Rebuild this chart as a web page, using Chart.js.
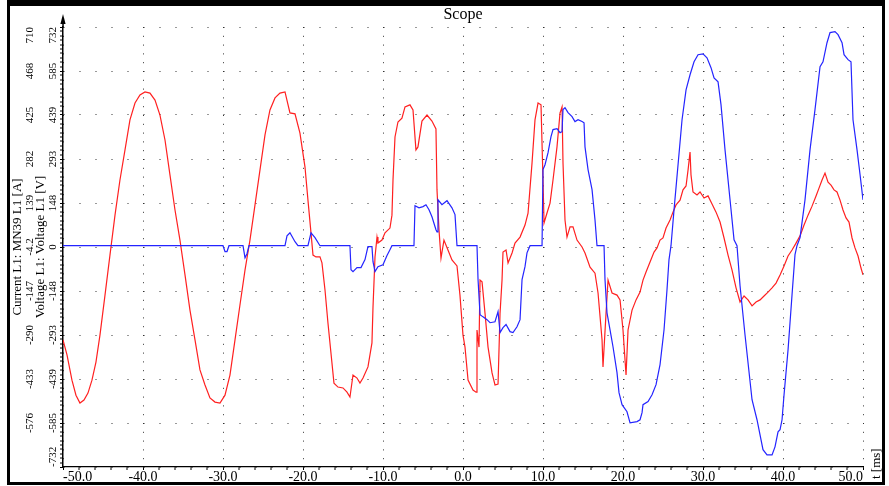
<!DOCTYPE html>
<html>
<head>
<meta charset="utf-8">
<title>Scope</title>
<script src="https://cdn.jsdelivr.net/npm/chart.js@4.4.1/dist/chart.umd.min.js"></script>
<style>
  html, body { margin: 0; padding: 0; background: #fff; }
  #wrap { position: relative; width: 889px; height: 486px; }
</style>
</head>
<body>
<div id="wrap"><canvas id="scope" width="889" height="486"></canvas></div>
<script>
// ---- Sampled traces (time in ms) ----
const voltageTimes = [
  -50, -49.5, -48.88, -48.38, -47.88, -47.38, -46.88, -46.38, -45.88, -45.38,
  -44.75, -44.13, -43.5, -42.88, -42.25, -41.63, -41, -40.38, -39.75, -39.13,
  -38.5, -37.88, -37.25, -36.63, -36, -35.38, -34.75, -34.13, -33.5, -32.88,
  -32.25, -31.63, -31, -30.38, -29.75, -29.13, -28.5, -27.88, -27.25, -26.63,
  -26, -25.38, -24.75, -24.13, -23.5, -22.88, -22.25, -21.63, -21, -20.38,
  -19.75, -19.38, -19, -18.75, -18.38, -17.88, -17.63, -17.25, -16.88, -16.38,
  -16.13, -15.63, -15, -14.5, -14.13, -13.75, -13.25, -12.88, -12.5, -11.88,
  -11.38, -11.25, -11, -10.75, -10.63, -10.13, -9.75, -9.13, -8.88, -8.75,
  -8.5, -8.13, -7.63, -7.25, -6.63, -6.25, -5.88, -5.63, -5.13, -4.5,
  -3.88, -3.38, -3.25, -3, -2.75, -2.38, -1.88, -1.38, -0.75, -0.38,
  0, 0.25, 0.63, 1.25, 1.63, 1.75, 2, 2.13, 2.38, 2.75,
  3.13, 3.63, 4, 4.38, 4.63, 4.88, 5, 5.38, 5.63, 6.13,
  6.5, 7.13, 7.75, 8.13, 8.63, 9, 9.38, 9.75, 10, 10.13,
  10.5, 10.88, 11.25, 11.75, 12.13, 12.38, 12.5, 12.75, 13, 13.38,
  13.75, 14.25, 14.88, 15.25, 15.88, 16.5, 16.88, 17.38, 17.5, 17.88,
  18.13, 18.63, 19.25, 19.63, 20, 20.38,
  20.63, 21.13, 21.63, 22.13, 22.5, 22.88, 23.38, 23.88, 24.25, 24.63,
  25, 25.38, 25.88, 26.25, 26.63, 27.13, 27.5, 27.88, 28.13, 28.38,
  28.5, 28.75, 29.25, 29.63, 30.13, 30.63, 31.13, 31.63, 32.13, 32.63,
  33.13, 33.63, 34.13, 34.63, 35.13, 35.63, 36.13, 36.63, 37.13, 37.63,
  38.13, 38.63, 39.13, 39.63, 40.13, 40.63, 41.13, 41.63, 42.13, 42.63,
  43.13, 43.63, 44.13, 44.5, 44.88, 45.25, 45.63, 46, 46.38, 46.75,
  47.13, 47.5, 47.88, 48.25, 48.63, 49, 49.38, 49.75, 50
];
const voltageValues = [
  -309, -359, -443, -493, -519, -509, -486, -443, -383, -293,
  -160, -27, 106, 223, 323, 423, 479, 506, 516, 512,
  489, 439, 356, 240, 123, 23, -93, -210, -309, -409,
  -459, -502, -516, -519, -493, -426, -309, -193, -77, 23,
  140, 256, 373, 456, 496, 512, 516, 446, 443, 379,
  266, 156, 47, -27, -33, -33, -53, -143, -253, -386,
  -453, -466, -469, -483, -499, -426, -436, -453, -436, -399,
  -319, -200, -33, 33, 13, 23, 47, 63, 106, 223,
  366, 416, 429, 466, 473, 456, 323, 333, 419, 439,
  419, 393, 190, 57, -37, 23, -10, -43, -63, -160,
  -293, -333, -443, -476, -483, -276, -333, -110, -116, -220,
  -333, -419, -459, -456, -220, -110, -17, -10, -53, -20,
  13, 33, 73, 113, 280, 423, 479, 473, 223, 80,
  113, 146, 223, 333, 446, 466, 280, 90, 33, 67,
  67, 23, 0, -20, -67, -87, -153, -309, -399, -220,
  -110, -153, -160, -176, -276, -426,
  -276, -210, -176, -150, -110, -83, -50, -17, -3, 23,
  30, 63, 90, 116, 140, 156, 190, 203, 256, 316,
  240, 183, 173, 183, 163, 170, 143, 116, 83, 30,
  -27, -77, -136, -183, -163, -176, -196, -183, -176, -163,
  -150, -136, -120, -93, -63, -30, -10, 13, 37, 73,
  106, 136, 170, 196, 223, 246, 216, 206, 190, 183,
  156, 123, 97, 83, 30, -3, -30, -70, -93
];

const currentTimes = [
  -50, -30, -29.75, -29.5, -29.25, -27.5, -27.25, -27, -26.75, -22.25,
  -22, -21.63, -21, -20.63, -19.38, -19, -18.5, -17.88, -14.13, -14,
  -13.75, -13.25, -12.75, -12.25, -11.88, -11.38, -11.25, -11, -10.63, -10,
  -9.5, -9.13, -8.88, -6.13, -6, -5.5, -5, -4.63, -4.25, -3.88,
  -3.38, -3.25, -3.13, -2.63, -2, -1.38, -1, -0.75, 1.75, 1.88,
  2.13, 2.5, 3, 3.38, 4, 4.38, 4.63, 5, 5.38, 5.88,
  6.25, 6.75, 7.13, 7.38, 7.75, 8, 8.38, 9.88, 10, 10.25,
  10.63, 11, 11.25, 11.75, 12.13, 12.38, 12.5, 12.75, 13.13, 13.63,
  14, 14.38, 14.88, 15.13, 15.25, 15.63, 16.13, 16.5, 16.75, 17.63,
  17.75, 18, 18.38, 18.75, 19.25, 19.5, 19.88, 20.5, 20.88, 21.75,
  22.13, 22.38, 22.5, 23.13, 23.63, 24.13, 24.63, 25.13, 25.5, 25.75,
  26, 26.38, 26.88, 27.38, 27.88, 28.38, 28.88, 29.38, 30, 30.5,
  31, 31.38, 31.88, 32.25, 32.75, 33.38, 33.88, 34.25, 34.63, 35.25,
  36.13, 36.75, 37.5, 38, 38.63, 39, 39.38, 39.63, 39.88, 40.13,
  40.63, 41.13, 41.5, 41.75, 42.13, 42.75, 43.38, 44, 44.63, 45,
  45.5, 45.88, 46.5, 46.88, 47.38, 47.63, 48.13, 48.5, 48.75, 49.25,
  49.63, 50
];
const currentValues = [
  0, 0, -19, -19, 0, 0, -39, -26, 0, 0,
  32, 42, 13, 0, 0, 42, 26, 0, 0, -78,
  -84, -71, -71, -45, -3, -3, -52, -84, -68, -62,
  -32, -13, 0, 0, 130, 123, 127, 133, 117, 94,
  52, 45, 149, 133, 146, 123, 101, 0, 0, -110,
  -224, -231, -240, -250, -247, -214, -282, -266, -256, -279,
  -282, -263, -240, -110, -68, -23, 0, 0, 247, 263,
  302, 354, 377, 380, 367, 370, 442, 448, 432, 419,
  403, 409, 403, 399, 321, 247, 182, 84, 0, 0,
  -110, -218, -273, -328, -412, -477, -516, -539, -575, -571,
  -565, -542, -516, -506, -484, -451, -386, -273, -143, -45,
  0, 117, 263, 409, 506, 555, 597, 620, 623, 610,
  578, 545, 532, 458, 312, 149, 19, 0, -130, -289,
  -500, -565, -662, -679, -679, -653, -604, -597, -565, -484,
  -338, -159, -29, 0, 26, 149, 312, 442, 581, 597,
  659, 692, 695, 685, 659, 620, 604, 597, 409, 312,
  231, 149
];

// ---- Axis ticks ----
const xTickValues = [-50, -40, -30, -20, -10, 0, 10, 20, 30, 40, 50];
const xTickLabels = ['-50.0', '-40.0', '-30.0', '-20.0', '-10.0', '0.0', '10.0', '20.0', '30.0', '40.0', '50.0'];

// voltage axis, bottom to top
const voltTickValues = [-732, -585.6, -439.2, -292.8, -146.4, 0, 146.4, 292.8, 439.2, 585.6, 732];
const voltTickLabels = ['-732', '-585', '-439', '-293', '-148', '0', '148', '293', '439', '585', '732'];

// current axis, bottom to top (sits on the same grid rows as the voltage ticks)
const currTickValues = [-575.6, -432.7, -289.9, -147.0, -4.2, 138.6, 281.5, 424.3, 567.2, 710];
const currTickLabels = ['-576', '-433', '-290', '-147', '-4.2', '139', '282', '425', '468', '710'];

const SERIF = "'Liberation Serif', 'Times New Roman', serif";
const DOT = '#333';

// Pin the first/last vertical tick labels inside the plot height
const edgeLabels = {
  id: 'edgeLabels',
  beforeDraw(chart) {
    const patch = (scale, fixFirst) => {
      const items = scale.getLabelItems(chart.chartArea);
      if (!items.length) return;
      if (fixFirst) items[0].options.textAlign = 'left';
      items[items.length - 1].options.textAlign = 'right';
    };
    patch(chart.scales.yV, true);
    patch(chart.scales.yI, false);
  }
};

// Window frame, axis arrow and time-unit label
const decorations = {
  id: 'decorations',
  afterDraw(chart) {
    const { ctx, chartArea: a } = chart;
    ctx.save();
    // y axis arrow
    ctx.strokeStyle = '#000';
    ctx.lineWidth = 1.5;
    ctx.beginPath();
    ctx.moveTo(a.left, a.top);
    ctx.lineTo(a.left, a.top - 8);
    ctx.stroke();
    ctx.fillStyle = '#000';
    ctx.beginPath();
    ctx.moveTo(a.left, a.top - 13);
    ctx.lineTo(a.left - 2.6, a.top - 3);
    ctx.lineTo(a.left + 2.6, a.top - 3);
    ctx.closePath();
    ctx.fill();
    // time unit
    ctx.translate(a.right + 14, a.bottom + 12);
    ctx.rotate(-Math.PI / 2);
    ctx.font = '13px ' + SERIF;
    ctx.textAlign = 'left';
    ctx.textBaseline = 'middle';
    ctx.fillText('t [ms]', 0, 0);
    ctx.restore();
    // frame
    ctx.save();
    ctx.fillStyle = '#000';
    ctx.fillRect(7, 0, 878, 6);
    ctx.fillRect(7, 0, 3, 485);
    ctx.fillRect(882, 0, 3, 485);
    ctx.fillRect(7, 482, 878, 3);
    ctx.restore();
  }
};

new Chart(document.getElementById('scope'), {
  type: 'line',
  data: {
    datasets: [
      {
        label: 'Current L1: MN39 L1 [A]',
        data: currentTimes.map((t, i) => ({ x: t, y: currentValues[i] })),
        yAxisID: 'yI',
        borderColor: '#2424ff',
        borderWidth: 1.2,
        pointRadius: 0,
        tension: 0
      },
      {
        label: 'Voltage L1: Voltage L1 [V]',
        data: voltageTimes.map((t, i) => ({ x: t, y: voltageValues[i] })),
        yAxisID: 'yV',
        borderColor: '#ff2020',
        borderWidth: 1.2,
        pointRadius: 0,
        tension: 0
      }
    ]
  },
  options: {
    responsive: false,
    animation: false,
    events: [],
    layout: { padding: { left: 11.5, right: 26, top: 5, bottom: 0 } },
    plugins: {
      legend: { display: false },
      tooltip: { enabled: false },
      title: {
        display: true,
        text: 'Scope',
        fullSize: false,
        color: '#000',
        font: { family: SERIF, size: 16, weight: 'normal', lineHeight: 1.25 },
        padding: { top: 0, bottom: 2 }
      }
    },
    scales: {
      x: {
        type: 'linear',
        position: 'bottom',
        min: -50,
        max: 50,
        afterBuildTicks: s => {
          const t = [];
          for (let v = -50; v <= 50; v += 2) t.push({ value: v });
          s.ticks = t;
        },
        afterFit: s => { s.height = 19; },
        ticks: {
          autoSkip: false,
          align: 'inner',
          minRotation: 0,
          maxRotation: 0,
          padding: -1,
          color: '#000',
          font: { family: SERIF, size: 14 },
          callback: v => {
            const i = xTickValues.indexOf(v);
            return i >= 0 ? xTickLabels[i] : '';
          }
        },
        grid: {
          color: DOT,
          lineWidth: c => (c.tick && c.tick.value % 10 === 0) ? 1 : 0,
          tickColor: '#000',
          tickWidth: 1,
          tickLength: 3
        },
        border: { display: true, color: '#000', width: 1.2, dash: [1, 7.8] }
      },
      yV: {
        type: 'linear',
        position: 'left',
        weight: 1,
        min: -732,
        max: 732,
        afterBuildTicks: s => {
          const t = [];
          for (let k = 0; k < voltTickValues.length - 1; k++) {
            const a = voltTickValues[k], b = voltTickValues[k + 1];
            for (let m = 0; m < 10; m++) t.push({ value: a + (b - a) * m / 10 });
          }
          t.push({ value: voltTickValues[voltTickValues.length - 1] });
          s.ticks = t;
        },
        afterFit: s => { s.width = 29; },
        ticks: {
          autoSkip: false,
          minRotation: 90,
          maxRotation: 90,
          crossAlign: 'center',
          padding: -3,
          color: '#000',
          font: { family: SERIF, size: 11 },
          callback: (v, i) => (i % 10 === 0 ? voltTickLabels[i / 10] : '')
        },
        grid: {
          color: DOT,
          lineWidth: c => (c.index % 10 === 0) ? 1 : 0,
          tickColor: '#000',
          tickWidth: 1,
          tickLength: 3
        },
        border: { display: true, color: '#000', width: 1.5, dash: [1, 15] },
        title: {
          display: true,
          text: 'Voltage L1: Voltage L1 [V]',
          color: '#000',
          font: { family: SERIF, size: 13, lineHeight: 1 },
          padding: 0
        }
      },
      yI: {
        type: 'linear',
        position: 'left',
        weight: 2,
        min: -718.4,
        max: 710,
        afterBuildTicks: s => { s.ticks = currTickValues.map(v => ({ value: v })); },
        afterFit: s => { s.width = 22.5; },
        ticks: {
          autoSkip: false,
          minRotation: 90,
          maxRotation: 90,
          crossAlign: 'center',
          padding: -6,
          color: '#000',
          font: { family: SERIF, size: 11 },
          callback: (v, i) => currTickLabels[i]
        },
        grid: { display: false, drawTicks: false },
        border: { display: false },
        title: {
          display: true,
          text: 'Current L1: MN39 L1 [A]',
          color: '#000',
          font: { family: SERIF, size: 13, lineHeight: 1 },
          padding: 0
        }
      }
    }
  },
  plugins: [edgeLabels, decorations]
});
</script>
</body>
</html>
